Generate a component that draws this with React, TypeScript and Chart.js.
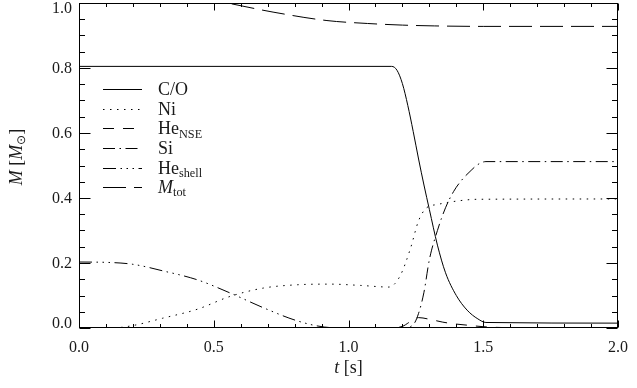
import React, { useEffect, useRef } from "react";
import { Chart, registerables } from "chart.js";
Chart.register(...registerables);

// ---- data (time in s, mass in solar masses) ----
const tCO = [0, 1.16, 1.18, 1.2, 1.22, 1.24, 1.26, 1.28, 1.3, 1.33, 1.36, 1.4, 1.44, 1.48, 1.51, 2.0];
const mCO = [0.805, 0.805, 0.793, 0.752, 0.685, 0.605, 0.52, 0.44, 0.365, 0.255, 0.17, 0.1, 0.055, 0.028, 0.017, 0.015];

const tNi = [0, 0.12, 0.19, 0.31, 0.44, 0.56, 0.685, 0.81, 0.93, 1.045, 1.15, 1.19, 1.23, 1.26, 1.29, 1.33, 1.38, 1.48, 2.0];
const mNi = [0, 0, 0.006, 0.03, 0.058, 0.097, 0.123, 0.133, 0.135, 0.131, 0.126, 0.158, 0.245, 0.33, 0.37, 0.38, 0.388, 0.396, 0.397];

const tHeNSE = [0, 1.15, 1.2, 1.23, 1.26, 1.3, 1.35, 1.4, 1.45, 1.5, 1.6, 2.0];
const mHeNSE = [0, 0, 0.005, 0.02, 0.032, 0.027, 0.018, 0.012, 0.008, 0.004, 0.001, 0];

const tSi = [0, 1.2, 1.24, 1.26, 1.28, 1.3, 1.33, 1.36, 1.39, 1.42, 1.455, 1.48, 1.51, 2.0];
const mSi = [0, 0, 0.01, 0.045, 0.11, 0.21, 0.3, 0.37, 0.42, 0.455, 0.485, 0.503, 0.512, 0.512];

const tHeShell = [0, 0.1, 0.2, 0.31, 0.44, 0.56, 0.685, 0.81, 0.91, 1.0, 2.0];
const mHeShell = [0.203, 0.202, 0.196, 0.176, 0.148, 0.108, 0.062, 0.022, 0.003, 0, 0];

const tTot = [0, 0.25, 0.55, 0.72, 0.92, 1.07, 1.2, 1.32, 1.5, 2.0];
const mTot = [1.08, 1.045, 1.0, 0.972, 0.946, 0.937, 0.932, 0.9295, 0.928, 0.928];

const xMin = 0, xMax = 2.0, xMajor = 0.5, xMinor = 0.1;
const yMin = 0, yMax = 1.0, yMajor = 0.2, yMinor = 0.05;

// legend labels: main text, italic main?, subscript
const legendMain = ["C/O", "Ni", "He", "Si", "He", "M"];
const legendSub = ["", "", "NSE", "", "shell", "tot"];
const legendItalic = [false, false, false, false, false, true];

const dashes: number[][] = [
  [],
  [1.5, 5.5],
  [11, 9],
  [12, 4.5, 1.5, 4.5],
  [13, 4.5, 1.5, 4.5, 1.5, 4.5, 1.5, 4.5],
  [23, 8],
];

const FONT = "'Liberation Serif', 'Times New Roman', serif";
const FS = 16;
const LFS = 18;
const INK = "#1a1a1a";

function zip(t: number[], m: number[]) {
  return t.map((v, i) => ({ x: v, y: m[i] }));
}

type Part = { text: string; italic?: boolean; sub?: boolean };

function drawRich(ctx: CanvasRenderingContext2D, x: number, y: number, parts: Part[], size: number) {
  let cx = x;
  for (const p of parts) {
    const s = p.sub ? size * 0.68 : size;
    ctx.font = `${p.italic ? "italic " : ""}${s}px ${FONT}`;
    ctx.fillText(p.text, cx, p.sub ? y + size * 0.18 : y);
    cx += ctx.measureText(p.text).width;
  }
  return cx - x;
}

function measureRich(ctx: CanvasRenderingContext2D, parts: Part[], size: number) {
  let w = 0;
  for (const p of parts) {
    const s = p.sub ? size * 0.68 : size;
    ctx.font = `${p.italic ? "italic " : ""}${s}px ${FONT}`;
    w += ctx.measureText(p.text).width;
  }
  return w;
}

const decorPlugin = {
  id: "decor",
  afterDatasetsDraw(chart: any) {
    const { ctx, chartArea: a, scales } = chart;
    const xs = scales.x, ys = scales.y;
    ctx.save();
    ctx.strokeStyle = "#000";
    ctx.lineWidth = 1;
    ctx.setLineDash([]);
    const L = Math.round(a.left) + 0.5, R = Math.round(a.right) - 0.5;
    const T = Math.round(a.top) + 0.5, B = Math.round(a.bottom) - 0.5;
    ctx.strokeRect(L, T, R - L, B - T);
    ctx.beginPath();
    const nx = Math.round((xMax - xMin) / xMinor);
    const perX = Math.round(xMajor / xMinor);
    for (let i = 0; i <= nx; i++) {
      const px = Math.round(xs.getPixelForValue(xMin + i * xMinor)) + 0.5;
      const len = i % perX === 0 ? 7 : 3.5;
      ctx.moveTo(px, B); ctx.lineTo(px, B - len);
      ctx.moveTo(px, T); ctx.lineTo(px, T + len);
    }
    const ny = Math.round((yMax - yMin) / yMinor);
    const perY = Math.round(yMajor / yMinor);
    for (let i = 0; i <= ny; i++) {
      const py = Math.round(ys.getPixelForValue(yMin + i * yMinor)) + 0.5;
      const len = i % perY === 0 ? 11 : 5.5;
      ctx.moveTo(L, py); ctx.lineTo(L + len, py);
      ctx.moveTo(R, py); ctx.lineTo(R - len, py);
    }
    ctx.stroke();

    // legend
    const lx0 = a.left + 24, lx1 = a.left + 63, tx = a.left + 79;
    const ly0 = a.top + 86, step = 19.65;
    ctx.fillStyle = INK;
    ctx.textBaseline = "alphabetic";
    ctx.textAlign = "left";
    for (let i = 0; i < legendMain.length; i++) {
      const y = ly0 + i * step;
      ctx.beginPath();
      ctx.setLineDash(dashes[i]);
      ctx.moveTo(lx0, Math.round(y) + 0.5);
      ctx.lineTo(lx1, Math.round(y) + 0.5);
      ctx.stroke();
      const parts: Part[] = [{ text: legendMain[i], italic: legendItalic[i] }];
      if (legendSub[i]) parts.push({ text: legendSub[i], sub: true });
      drawRich(ctx, tx, y + 6, parts, LFS);
    }
    ctx.setLineDash([]);

    // x title
    const xParts: Part[] = [{ text: "t", italic: true }, { text: " [s]" }];
    const xw = measureRich(ctx, xParts, LFS);
    drawRich(ctx, (a.left + a.right) / 2 - xw / 2, 373, xParts, LFS);

    // y title (rotated)
    const yParts: Part[] = [
      { text: "M", italic: true },
      { text: " [" },
      { text: "M", italic: true },
      { text: "\u2299", sub: true },
      { text: "]" },
    ];
    const yw = measureRich(ctx, yParts, LFS);
    ctx.translate(22, 157);
    ctx.rotate(-Math.PI / 2);
    drawRich(ctx, -yw / 2, 0, yParts, LFS);
    ctx.restore();
  },
};

export default function App() {
  const ref = useRef<HTMLCanvasElement | null>(null);
  useEffect(() => {
    if (!ref.current) return;
    const mk = (t: number[], m: number[], i: number) => ({
      data: zip(t, m),
      borderColor: "#000",
      borderWidth: 1,
      borderDash: dashes[i],
      pointRadius: 0,
      fill: false,
      cubicInterpolationMode: "monotone" as const,
    });
    const chart = new Chart(ref.current, {
      type: "line",
      data: {
        datasets: [
          mk(tCO, mCO, 0),
          mk(tNi, mNi, 1),
          mk(tHeNSE, mHeNSE, 2),
          mk(tSi, mSi, 3),
          mk(tHeShell, mHeShell, 4),
          mk(tTot, mTot, 5),
        ],
      },
      options: {
        animation: false,
        responsive: true,
        maintainAspectRatio: false,
        layout: { padding: { left: 0, right: 19, top: 3, bottom: 0 } },
        plugins: { legend: { display: false }, tooltip: { enabled: false }, title: { display: false } },
        scales: {
          x: {
            type: "linear",
            min: xMin,
            max: xMax,
            grid: { display: false, drawTicks: false },
            border: { display: false },
            ticks: {
              stepSize: xMajor,
              padding: 10,
              color: INK,
              maxRotation: 0,
              font: { family: FONT, size: FS },
              callback: (v: any) => Number(v).toFixed(1),
            },
            afterFit: (s: any) => { s.height = 60; s.paddingLeft = 0; s.paddingRight = 0; },
          },
          y: {
            type: "linear",
            min: yMin,
            max: yMax,
            grid: { display: false, drawTicks: false },
            border: { display: false },
            ticks: {
              stepSize: yMajor,
              padding: 7,
              labelOffset: 1,
              color: INK,
              font: { family: FONT, size: FS, lineHeight: 0.65 },
              callback: (v: any) => {
                const s = Number(v).toFixed(1);
                if (Number(v) >= yMax) return ["", s];
                if (Number(v) <= yMin) return [s, ""];
                return s;
              },
            },
            afterFit: (s: any) => { s.width = 79; s.paddingTop = 0; s.paddingBottom = 0; },
          },
        },
      },
      plugins: [decorPlugin],
    });
    return () => chart.destroy();
  }, []);
  return (
    <div style={{ position: "fixed", left: 0, top: 0, width: 637, height: 388, background: "#fff" }}>
      <canvas ref={ref} />
    </div>
  );
}
